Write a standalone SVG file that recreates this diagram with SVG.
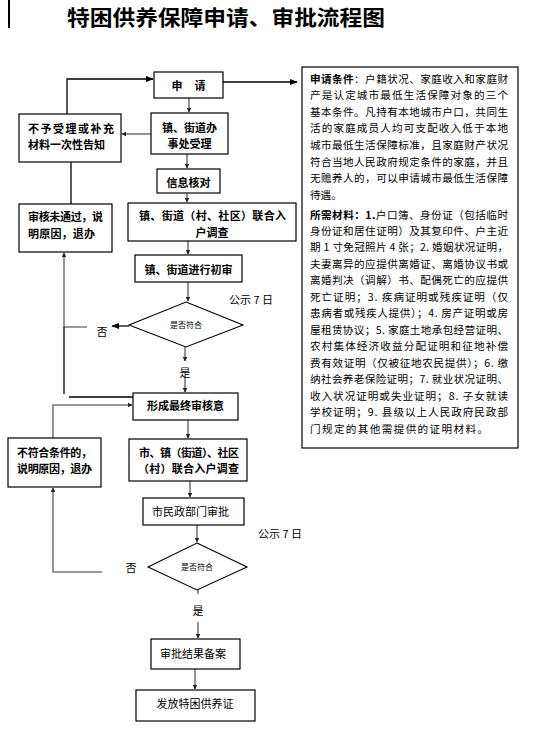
<svg xmlns="http://www.w3.org/2000/svg" width="538" height="731" viewBox="0 0 538 731">
<defs>
<style>
text{font-family:"Noto Sans CJK SC","Liberation Sans",sans-serif;fill:#000;}
.t{font-size:11px;font-weight:bold;dominant-baseline:central;}
.tc{font-size:11px;font-weight:bold;dominant-baseline:central;text-anchor:middle;}
.r{font-size:11px;dominant-baseline:central;text-anchor:middle;}
.s{font-size:8px;dominant-baseline:central;text-anchor:middle;}
.p{font-size:10.6px;dominant-baseline:central;}
.box{fill:#fff;stroke:#000;stroke-width:1.2;}
.c{fill:none;stroke:#7a7a7a;stroke-width:1.6;}
.k{fill:none;stroke:#000;stroke-width:1.3;}
</style>
<marker id="a" viewBox="0 0 10 10" refX="9" refY="5" markerWidth="4.5" markerHeight="4.5" orient="auto" markerUnits="userSpaceOnUse">
<path d="M0,0 L10,5 L0,10 z" fill="#222"/>
</marker>
<marker id="b" viewBox="0 0 10 10" refX="9" refY="5" markerWidth="8" markerHeight="8" orient="auto" markerUnits="userSpaceOnUse">
<path d="M0,1 L10,5 L0,9 z" fill="#000"/>
</marker>
</defs>
<rect width="538" height="731" fill="#fff"/>
<g id="title">
<line x1="9" y1="0" x2="9" y2="28" stroke="#000" stroke-width="2"/>
<text x="67" y="25" font-size="21" font-weight="bold" textLength="318" lengthAdjust="spacingAndGlyphs">特困供养保障申请、审批流程图</text>
</g>
<g id="connectors">
<path class="k" d="M223,82 H297" marker-end="url(#b)"/>
<path class="k" d="M67,114 V79 H153" marker-end="url(#b)"/>
<path class="c" d="M189,98 V112" marker-end="url(#a)"/>
<path class="c" d="M151,134 H122" marker-end="url(#a)"/>
<path class="k" d="M71,162 V204"/>
<path class="c" d="M187,154 V168" marker-end="url(#a)"/>
<path class="c" d="M187,193 V202" marker-end="url(#a)"/>
<path class="c" d="M188,241 V254" marker-end="url(#a)"/>
<path class="c" d="M188,282 V301" marker-end="url(#a)"/>
<path class="k" d="M129,326 H112" marker-end="url(#b)"/>
<path class="c" d="M87,327 H64 V253" marker-end="url(#a)"/>
<path class="k" d="M64,327 V394"/>
<path class="k" d="M69,397 H133"/>
<path class="c" d="M185,347 V361" marker-end="url(#a)"/>
<path class="c" d="M185,377 V392" marker-end="url(#a)"/>
<path class="c" d="M53,438 V405 H132" marker-end="url(#a)"/>
<path class="c" d="M188,420 V438" marker-end="url(#a)"/>
<path class="c" d="M190,481 V497" marker-end="url(#a)"/>
<path class="c" d="M197,525 V542" marker-end="url(#a)"/>
<path class="c" d="M102,572 H53 V488" marker-end="url(#a)"/>
<path class="c" d="M198,590 V594"/>
<path class="c" d="M198,622 V638" marker-end="url(#a)"/>
<path class="c" d="M195,669 V689" marker-end="url(#a)"/>
</g>
<g id="labels">
<text class="r" x="251" y="299">公示 7 日</text>
<text class="r" x="280" y="533">公示 7 日</text>
<text class="r" x="102" y="331">否</text>
<text class="r" x="131" y="567">否</text>
<text class="r" x="185" y="372">是</text>
<text class="r" x="198" y="610">是</text>
</g>
<g id="n-apply">
<rect class="box" x="154" y="72" width="69" height="26"/>
<text class="tc" x="177" y="85">申</text>
<text class="tc" x="200" y="85">请</text>
</g>
<g id="n-accept">
<rect class="box" x="151" y="113" width="77" height="41"/>
<text class="tc" x="189.5" y="127">镇、街道办</text>
<text class="tc" x="189.5" y="143">事处受理</text>
</g>
<g id="n-reject1">
<rect class="box" x="19" y="114" width="102" height="48"/>
<text class="t" x="28" y="128" textLength="86" lengthAdjust="spacing">不予受理或补充</text>
<text class="t" x="28" y="144" textLength="77" lengthAdjust="spacing">材料一次性告知</text>
</g>
<g id="n-verify">
<rect class="box" x="157" y="169" width="63" height="24"/>
<text class="tc" x="188.5" y="181.5">信息核对</text>
</g>
<g id="n-survey1">
<rect class="box" x="128" y="203" width="168" height="38"/>
<text class="t" x="139" y="215" textLength="147" lengthAdjust="spacing">镇、街道（村、社区）联合入</text>
<text class="tc" x="212" y="232">户调查</text>
</g>
<g id="n-reject2">
<rect class="box" x="19" y="204" width="93" height="48"/>
<text class="t" x="28" y="216" textLength="75" lengthAdjust="spacing">审核未通过，说</text>
<text class="t" x="28" y="233" textLength="67" lengthAdjust="spacing">明原因，退办</text>
</g>
<g id="n-review">
<rect class="box" x="135" y="255" width="107" height="27"/>
<text class="tc" x="188.5" y="268.5">镇、街道进行初审</text>
</g>
<g id="d-check1">
<polygon points="186,302 243,325 186,347 129,325" fill="#fff" stroke="#000" stroke-width="1.1"/>
<text class="s" x="186" y="324">是否符合</text>
</g>
<g id="n-final">
<rect class="box" x="133" y="393" width="105" height="27"/>
<text class="tc" x="185.5" y="405">形成最终审核意</text>
</g>
<g id="n-reject3">
<rect class="box" x="8" y="438" width="93" height="49"/>
<text class="t" x="17" y="452" textLength="75" lengthAdjust="spacing">不符合条件的，</text>
<text class="t" x="17" y="468" textLength="75" lengthAdjust="spacing">说明原因，退办</text>
</g>
<g id="n-survey2">
<rect class="box" x="129" y="439" width="118" height="42"/>
<text class="t" x="139" y="452" textLength="100" lengthAdjust="spacing">市、镇（街道）、社区</text>
<text class="t" x="138" y="468" textLength="101" lengthAdjust="spacing">（村）联合入户调查</text>
</g>
<g id="n-approve">
<rect class="box" x="143" y="498" width="101" height="27"/>
<text class="r" x="190.5" y="511">市民政部门审批</text>
</g>
<g id="d-check2">
<polygon points="197,543 247,567 197,590 148,567" fill="#fff" stroke="#000" stroke-width="1.1"/>
<text class="s" x="197" y="566">是否符合</text>
</g>
<g id="n-record">
<rect class="box" x="151" y="639" width="89" height="30"/>
<text class="r" x="193" y="653">审批结果备案</text>
</g>
<g id="n-issue">
<rect class="box" x="136" y="690" width="119" height="31"/>
<text class="r" x="195" y="703">发放特困供养证</text>
</g>
<g id="n-conditions">
<rect class="box" x="302" y="67" width="216" height="381"/>
<text class="p" x="310" y="78" textLength="198" lengthAdjust="spacing"><tspan font-weight="bold">申请条件</tspan>：户籍状况、家庭收入和家庭财</text>
<text class="p" x="310" y="94.6" textLength="198" lengthAdjust="spacing">产是认定城市最低生活保障对象的三个</text>
<text class="p" x="310" y="111.2" textLength="198" lengthAdjust="spacing">基本条件。凡持有本地城市户口，共同生</text>
<text class="p" x="310" y="127.8" textLength="198" lengthAdjust="spacing">活的家庭成员人均可支配收入低于本地</text>
<text class="p" x="310" y="144.4" textLength="198" lengthAdjust="spacing">城市最低生活保障标准，且家庭财产状况</text>
<text class="p" x="310" y="161" textLength="198" lengthAdjust="spacing">符合当地人民政府规定条件的家庭，并且</text>
<text class="p" x="310" y="177.6" textLength="198" lengthAdjust="spacing">无赡养人的，可以申请城市最低生活保障</text>
<text class="p" x="310" y="194.2">待遇。</text>
<text class="p" x="310" y="214" textLength="198" lengthAdjust="spacing"><tspan font-weight="bold">所需材料：1.</tspan>户口簿、身份证（包括临时</text>
<text class="p" x="310" y="230.5" textLength="198" lengthAdjust="spacing">身份证和居住证明）及其复印件、户主近</text>
<text class="p" x="310" y="246.9" textLength="198" lengthAdjust="spacing">期 1 寸免冠照片 4 张；2. 婚姻状况证明，</text>
<text class="p" x="310" y="263.4" textLength="198" lengthAdjust="spacing">夫妻离异的应提供离婚证、离婚协议书或</text>
<text class="p" x="310" y="279.8" textLength="198" lengthAdjust="spacing">离婚判决（调解）书、配偶死亡的应提供</text>
<text class="p" x="310" y="296.3" textLength="198" lengthAdjust="spacing">死亡证明；3. 疾病证明或残疾证明（仅</text>
<text class="p" x="310" y="312.8" textLength="198" lengthAdjust="spacing">患病者或残疾人提供）；4. 房产证明或房</text>
<text class="p" x="310" y="329.2" textLength="198" lengthAdjust="spacing">屋租赁协议；5. 家庭土地承包经营证明、</text>
<text class="p" x="310" y="345.7" textLength="198" lengthAdjust="spacing">农村集体经济收益分配证明和征地补偿</text>
<text class="p" x="310" y="362.1" textLength="198" lengthAdjust="spacing">费有效证明（仅被征地农民提供）；6. 缴</text>
<text class="p" x="310" y="378.6" textLength="198" lengthAdjust="spacing">纳社会养老保险证明；7. 就业状况证明、</text>
<text class="p" x="310" y="395" textLength="198" lengthAdjust="spacing">收入状况证明或失业证明；8. 子女就读</text>
<text class="p" x="310" y="411.5" textLength="198" lengthAdjust="spacing">学校证明；9. 县级以上人民政府民政部</text>
<text class="p" x="310" y="428" textLength="178" lengthAdjust="spacing">门规定的其他需提供的证明材料。</text>
</g>
</svg>
